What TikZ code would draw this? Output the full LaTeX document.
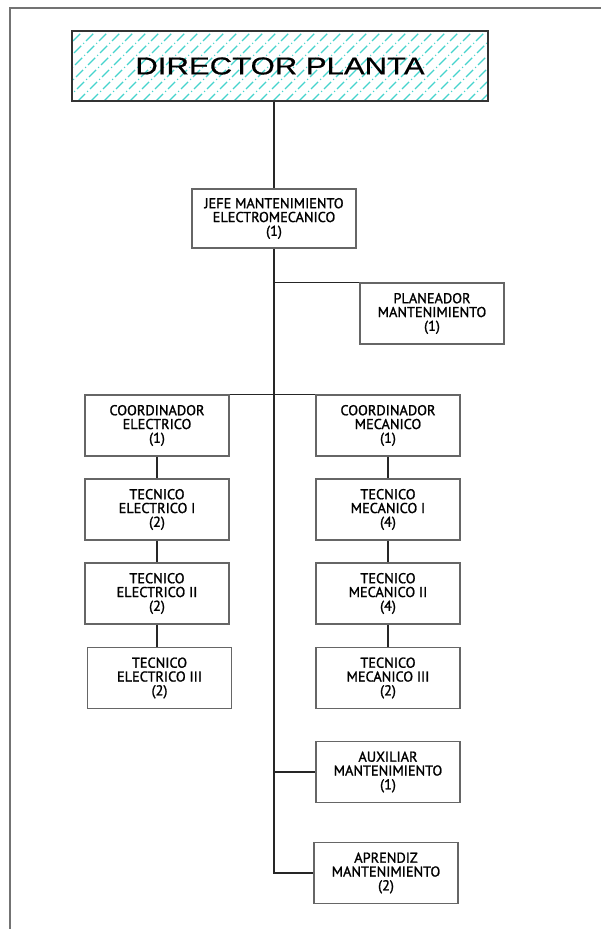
\documentclass[tikz,border=0pt]{standalone}
\usepackage{fontspec}
\setmainfont[FakeBold=1.3]{PT Sans}
\newfontfamily\titlefont[FakeStretch=1.28,FakeBold=0.6]{Liberation Sans}
\usetikzlibrary{positioning}
\colorlet{boxColor}{black!60}
\colorlet{lineColor}{black!85}
\definecolor{hatchColor}{RGB}{70,212,205}
\tikzset{
  puesto/.style={draw=boxColor, line width=1.1pt, minimum width=144pt, minimum height=61pt,
    inner sep=0pt, align=center, font=\fontsize{14.3}{13.8}\selectfont},
  enlace/.style={draw=lineColor, line width=1.1pt},
  trama/.style={hatchColor, line width=1.2pt, dash pattern=on 10pt off 3pt on 1pt off 3pt}
}

\begin{document}
\begin{tikzpicture}[x=1pt,y=-1pt]
\useasboundingbox[fill=white] (0,0) rectangle (601,929);
% marco
\draw[black!55, line width=2pt] (601,8) -- (10,8) -- (10,929);
% director
\begin{scope}
\clip (72,31) rectangle (488,101);
\foreach \i in {0,...,40}
  \draw[trama] (\i*13,101) -- ++(75,-75);
\end{scope}
\node[draw=black!80, line width=1.2pt, minimum width=416pt, minimum height=70pt, inner sep=0pt,
  font=\titlefont\fontsize{24.3}{26}\selectfont] (director) at (280,66) {DIRECTOR PLANTA};
% jefe y planeador
\node[puesto, minimum width=164pt, minimum height=59pt] (jefe) at (274,218.5)
  {JEFE MANTENIMIENTO\\ELECTROMECANICO\\(1)};
\node[puesto] (planeador) at (432,313.5) {PLANEADOR\\MANTENIMIENTO\\(1)};
% coordinadores
\node[puesto] (coordelec) at (157,425.5) {COORDINADOR\\ELECTRICO\\(1)};
\node[puesto] (coordmec) at (388,425.5) {COORDINADOR\\MECANICO\\(1)};
% tecnicos electricos
\node[puesto] (tecelec1) at (157,509.5) {TECNICO\\ELECTRICO I\\(2)};
\node[puesto] (tecelec2) at (157,593.5) {TECNICO\\ELECTRICO II\\(2)};
\node[puesto] (tecelec3) at (159.5,678) {TECNICO\\ELECTRICO III\\(2)};
% tecnicos mecanicos
\node[puesto] (tecmec1) at (388,509.5) {TECNICO\\MECANICO I\\(4)};
\node[puesto] (tecmec2) at (388,593.5) {TECNICO\\MECANICO II\\(4)};
\node[puesto] (tecmec3) at (388,678) {TECNICO\\MECANICO III\\(2)};
% auxiliar y aprendiz
\node[puesto] (auxiliar) at (388,772) {AUXILIAR\\MANTENIMIENTO\\(1)};
\node[puesto] (aprendiz) at (386,873) {APRENDIZ\\MANTENIMIENTO\\(2)};
\coordinate (fin) at (jefe.south |- aprendiz.west);
% enlaces
\draw[enlace] (director.south -| jefe.north) -- (jefe.north);
\draw[enlace] (jefe.south) -- (fin) -- (aprendiz.west);
\draw[enlace] (jefe.south |- planeador.north west) -- (planeador.north west);
\draw[enlace] (coordelec.north east) -- (coordmec.north west);
\draw[enlace] (fin |- auxiliar.west) -- (auxiliar.west);
\draw[enlace] (coordelec) -- (tecelec1);
\draw[enlace] (tecelec1) -- (tecelec2);
\draw[enlace] (tecelec2.south) -- (tecelec2.south |- tecelec3.north);
\draw[enlace] (coordmec) -- (tecmec1);
\draw[enlace] (tecmec1) -- (tecmec2);
\draw[enlace] (tecmec2) -- (tecmec3);
\end{tikzpicture}
\end{document}
